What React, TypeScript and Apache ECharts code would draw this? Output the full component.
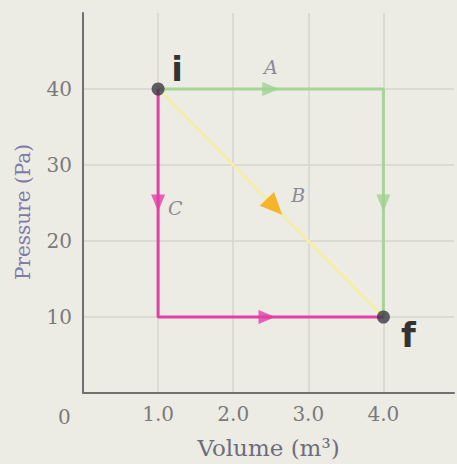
import React, { useEffect, useRef } from "react";
import * as echarts from "echarts";

// Process paths on the P-V diagram (volume m^3, pressure Pa)
const pathA: number[][] = [[1, 40], [4, 40], [4, 10]];
const pathB: number[][] = [[1, 40], [4, 10]];
const pathC: number[][] = [[1, 40], [1, 10], [4, 10]];
const states: number[][] = [[1, 40], [4, 10]];
const stateNames = ["i", "f"];
// arrow markers along each path: [x, y, rotation]
const arrowsA: number[][] = [[2.5, 40, -90], [4, 25, 180]];
const arrowsB: number[][] = [[2.55, 24.5, -136]];
const arrowsC: number[][] = [[1, 25, 180], [2.45, 10, -90]];
const xTicks = [1, 2, 3, 4];
const yTicks = [10, 20, 30, 40];
const xName = "Volume (m³)";
const yName = "Pressure (Pa)";

const serif = "'DejaVu Serif', 'Liberation Serif', serif";

export default function App() {
  const ref = useRef<HTMLDivElement>(null);
  useEffect(() => {
    if (!ref.current) return;
    const chart = echarts.init(ref.current, undefined, { renderer: "svg" });
    const tri = (data: number[][], color: string, size: any, name: string, labelPos: any) => ({
      type: "scatter",
      data: data.map((d, i) => ({
        value: [d[0], d[1]],
        symbolRotate: d[2],
        label: i === 0 && name ? labelPos : { show: false },
      })),
      symbol: "triangle",
      symbolSize: size,
      itemStyle: { color },
      z: 5,
    });
    const grid = { color: ["transparent", "#d6d6ce", "#d6d6ce", "#d6d6ce", "#d6d6ce", "transparent"], width: 1.5 };
    chart.setOption({
      animation: false,
      backgroundColor: "#ecebe4",
      grid: { left: 83, right: 0, top: 13, bottom: 66 },
      xAxis: {
        type: "value",
        min: 0,
        max: 4.94,
        interval: 1,
        axisLine: { show: true, onZero: false, lineStyle: { color: "#707070", width: 2 } },
        axisTick: { show: false },
        splitLine: { show: true, lineStyle: grid },
        axisLabel: {
          color: "#7a7a7a",
          fontFamily: serif,
          fontSize: 20,
          margin: 11,
          formatter: (v: number) => (xTicks.includes(v) ? v.toFixed(1) : ""),
        },
        name: xName,
        nameLocation: "middle",
        nameGap: 43,
        nameTextStyle: { color: "#6d6d7c", fontFamily: serif, fontSize: 23 },
      },
      yAxis: {
        type: "value",
        min: 0,
        max: 50,
        interval: 10,
        axisLine: { show: true, lineStyle: { color: "#707070", width: 2 } },
        axisTick: { show: false },
        splitLine: { show: true, lineStyle: grid },
        axisLabel: {
          color: "#7a7a7a",
          fontFamily: serif,
          fontSize: 20,
          margin: 11,
          formatter: (v: number) => (yTicks.includes(v) ? String(v) : ""),
        },
      },
      graphic: [
        {
          type: "text",
          left: 58,
          top: 407,
          style: { text: "0", fill: "#7a7a7a", font: `20px ${serif}` },
        },
        {
          type: "text",
          x: 23,
          y: 212,
          rotation: Math.PI / 2,
          style: {
            text: yName,
            fill: "#7e7aa6",
            font: `20px ${serif}`,
            align: "center",
            verticalAlign: "middle",
          },
        },
      ],
      series: [
        {
          type: "line",
          data: pathB,
          showSymbol: false,
          lineStyle: { color: "#f2efaa", width: 3 },
          z: 2,
        },
        {
          type: "line",
          data: pathA,
          showSymbol: false,
          lineStyle: { color: "#a6d597", width: 3 },
          z: 3,
        },
        {
          type: "line",
          data: pathC,
          showSymbol: false,
          lineStyle: { color: "#e23fa8", width: 3 },
          z: 3,
        },
        tri(arrowsA, "#9fd292", [14, 17], "A", {
          show: true,
          formatter: "A",
          position: "top",
          distance: 6,
          color: "#6f6f80",
          fontFamily: serif,
          fontStyle: "italic",
          fontSize: 19,
        }),
        tri(arrowsC, "#e23fa8", [14, 17], "C", {
          show: true,
          formatter: "C",
          position: "right",
          distance: 3,
          offset: [0, 5],
          color: "#6f6f80",
          fontFamily: serif,
          fontStyle: "italic",
          fontSize: 19,
        }),
        tri(arrowsB, "#f6a800", [20, 22], "B", {
          show: true,
          formatter: "B",
          position: "right",
          distance: 2,
          offset: [0, -12],
          color: "#6f6f80",
          fontFamily: serif,
          fontStyle: "italic",
          fontSize: 19,
        }),
        {
          type: "scatter",
          data: states.map((d, i) => ({
            value: d,
            label: {
              show: true,
              formatter: stateNames[i],
              position: i === 0 ? "top" : "right",
              offset: i === 0 ? [19, 8] : [6, 18],
              color: "#000",
              fontFamily: "'DejaVu Sans', sans-serif",
              fontWeight: "bold",
              fontSize: 34,
            },
          })),
          symbolSize: 13,
          itemStyle: { color: "#3a3a42" },
          z: 6,
        },
      ],
    });
    return () => chart.dispose();
  }, []);
  return (
    <div
      ref={ref}
      style={{ position: "absolute", left: 0, top: 0, width: 457, height: 464 }}
    />
  );
}
